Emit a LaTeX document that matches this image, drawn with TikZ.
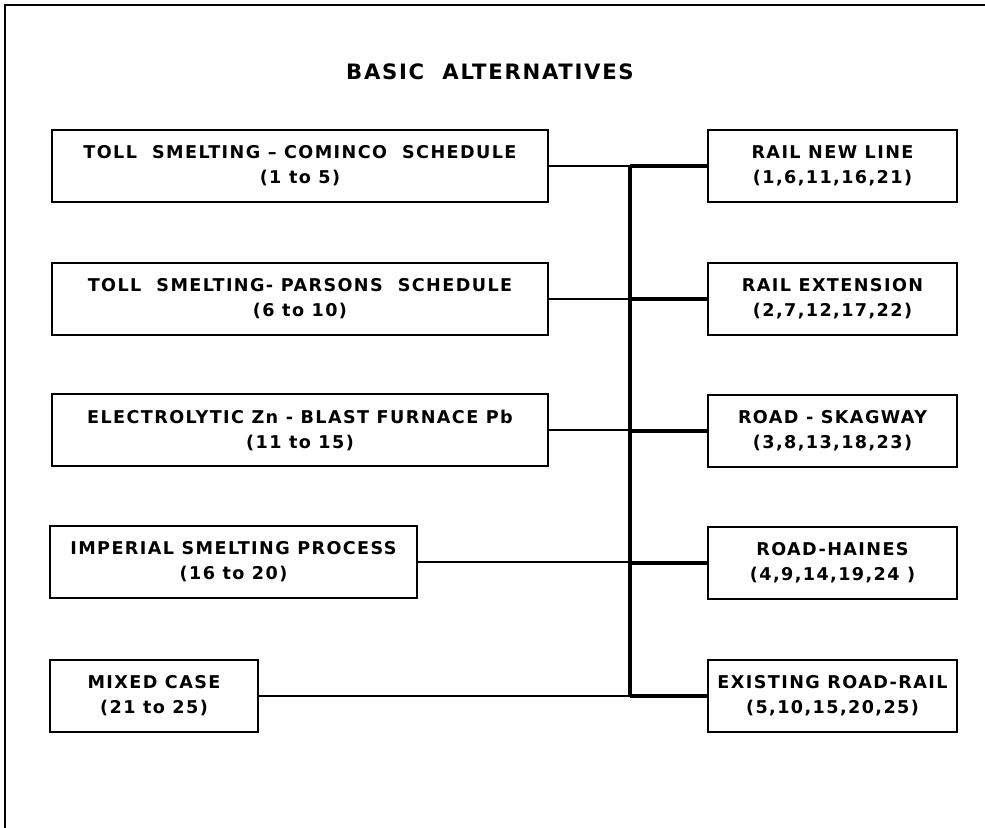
\documentclass[tikz,border=0pt]{standalone}
\usepackage{fontspec}
\setmainfont{DejaVu Sans}
\newfontfamily\leroy[LetterSpace=8]{DejaVu Sans}
\usepackage{tikz}
\usetikzlibrary{calc,positioning}

\begin{document}
\begin{tikzpicture}[x=0.5pt,y=-0.5pt]
        \tikzstyle{altbox}=[draw,line width=1pt,inner sep=0pt,align=center,
            minimum height=36pt,font=\leroy\bfseries\fontsize{8.8}{12.5}\selectfont]
        \tikzstyle{casebox}=[altbox,minimum width=124.5pt]
        \tikzstyle{feed}=[line width=0.7pt]
        \tikzstyle{trunk}=[line width=2pt]
        \useasboundingbox (0,0) rectangle (985,828);

        % Frame (only top and left edges)
        \draw[line width=1pt] (5,828) -- (5,5) -- (985,5);

        % Title
        \node (title) at (490,72) {\leroy\bfseries\fontsize{10.6}{12}\selectfont BASIC\ \ ALTERNATIVES};

        % Processing alternatives
        \node (toll1)[altbox,minimum width=248pt] at (300,166) {TOLL\ \ SMELTING \textendash\ COMINCO\ \ SCHEDULE\\(1 to 5)};
        \node (toll2)[altbox,minimum width=248pt] at (300,299) {TOLL\ \ SMELTING- PARSONS\ \ SCHEDULE\\(6 to 10)};
        \node (elec)[altbox,minimum width=248pt] at (300,430) {ELECTROLYTIC\ Zn - BLAST\ FURNACE\ Pb\\(11 to 15)};
        \node (imper)[altbox,minimum width=183.5pt] at (233.5,562) {IMPERIAL\ SMELTING\ PROCESS\\(16 to 20)};
        \node (mixed)[altbox,minimum width=104pt] at (154,696) {MIXED CASE\\(21 to 25)};

        % Transport cases
        \node (rnew)[casebox] at (832.5,166) {RAIL\ NEW\ LINE\\(1,6,11,16,21)};
        \node (rext)[casebox] at (832.5,299) {RAIL\ EXTENSION\\(2,7,12,17,22)};
        \node (skag)[casebox] at (832.5,431) {ROAD - SKAGWAY\\(3,8,13,18,23)};
        \node (haines)[casebox] at (832.5,563) {ROAD-HAINES\\(4,9,14,19,24 )};
        \node (exist)[casebox] at (832.5,696) {EXISTING ROAD-RAIL\\(5,10,15,20,25)};

        % Bus
        \coordinate (bustop) at (630,166);
        \coordinate (busbot) at (630,696);
        \draw[trunk] (bustop) -- (busbot);

        % Feeds into the bus
        \foreach \n in {toll1,toll2,elec,imper,mixed}
            \draw[feed] (\n.east) -- (\n.east -| bustop);
        \foreach \n in {rnew,rext,skag,haines,exist}
            \draw[trunk] (\n.west) -- (\n.west -| bustop);
    \end{tikzpicture}
\end{document}
